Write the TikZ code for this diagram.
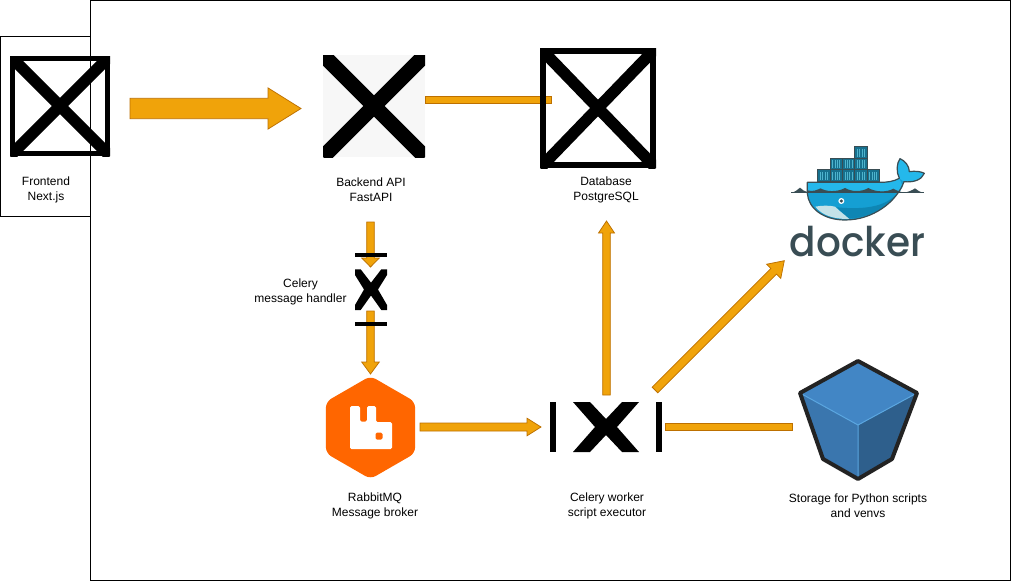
\documentclass[tikz,border=0pt]{standalone}
\usepackage{fontspec}
\setmainfont{Liberation Sans}
\newfontfamily\dockerfont{Poppins Medium}
\usetikzlibrary{calc,backgrounds,shapes.geometric}
\definecolor{amberfill}{HTML}{F0A30A}
\definecolor{amberline}{HTML}{BD7000}
\definecolor{rabbitorange}{HTML}{FF6600}
\definecolor{dockerdark}{HTML}{394D54}
\definecolor{dockerlight}{HTML}{24B8EB}
\definecolor{dockermid}{HTML}{159FD3}
\definecolor{dockerdeep}{HTML}{0E86B4}
\definecolor{cratefill}{HTML}{17708E}
\definecolor{cratelight}{HTML}{4FB4CE}
\definecolor{bellyfill}{HTML}{C4E2E8}
\definecolor{boxtop}{HTML}{4286C5}
\definecolor{boxleft}{HTML}{3A76AE}
\definecolor{boxright}{HTML}{2E5F8C}
\definecolor{boxedge}{HTML}{5AA6E0}
\definecolor{boxline}{HTML}{232323}
\tikzset{
  blockarrowstyle/.style={fill=amberfill,draw=amberline,line width=0.75pt,line join=miter},
  labeltext/.style={align=center,inner sep=0pt,font=\fontsize{12}{15}\selectfont},
  frame/.style={draw=black,line width=1pt,inner sep=0pt},
  crossimg/.style={inner sep=0pt,outer sep=0pt,minimum width=#1,
    path picture={
      \draw[line width=11.5pt] (path picture bounding box.north west) -- (path picture bounding box.south east);
      \draw[line width=11.5pt] (path picture bounding box.north east) -- (path picture bounding box.south west);
    }},
}
% a = tail, b = tip; half shaft width, half head width, head length
\newcommand{\blockarrow}[5]{%
  \coordinate (ba-h) at ($(#2)!#5!(#1)$);
  \draw[blockarrowstyle] ($(#1)!#3!90:(#2)$) -- ($(ba-h)!#3!90:(#2)$) -- ($(ba-h)!#4!90:(#2)$) -- (#2)
    -- ($(ba-h)!#4!-90:(#2)$) -- ($(ba-h)!#3!-90:(#2)$) -- ($(#1)!#3!-90:(#2)$) -- cycle;
}
\newcommand{\blockline}[3]{%
  \draw[blockarrowstyle] ($(#1)!#3!90:(#2)$) -- ($(#2)!#3!-90:(#1)$) -- ($(#2)!#3!90:(#1)$) -- ($(#1)!#3!-90:(#2)$) -- cycle;
}
\begin{document}
\begin{tikzpicture}[x=1pt,y=-1pt]
\useasboundingbox (0,0) rectangle (1011,581);
\fill[white] (0,0) rectangle (1011,581);

% frames
\node[frame,minimum width=90pt,minimum height=180pt] (frontbox) at (45.5,126.3) {};
\node[frame,minimum width=919.5pt,minimum height=579.5pt] (mainbox) at (550.25,290.5) {};

% free connector ends
\coordinate (c1s) at (130,108.5);   \coordinate (c1e) at (301,108.5);
\coordinate (c2s) at (425,100);     \coordinate (c2e) at (551,100);
\coordinate (c3s) at (370.5,222);   \coordinate (c3e) at (370.5,267);
\coordinate (c4s) at (370.5,311);   \coordinate (c4e) at (370.5,374);
\coordinate (c5s) at (420,427);     \coordinate (c5e) at (541,427);
\coordinate (c6s) at (606.5,395);   \coordinate (c6e) at (606.5,221);
\coordinate (c7s) at (655,390);     \coordinate (c7e) at (784.3,260.7);
\coordinate (c8s) at (665,426.8);   \coordinate (c8e) at (792,426.8);

% connectors (under the images)
\blockarrow{c1s}{c1e}{10.2pt}{20.6pt}{33pt}
\blockline{c2s}{c2e}{3.7pt}
\blockarrow{c3s}{c3e}{3.8pt}{8.8pt}{9pt}
\blockarrow{c4s}{c4e}{3.8pt}{8.8pt}{12pt}
\blockarrow{c5s}{c5e}{4pt}{8.8pt}{14pt}
\blockarrow{c6s}{c6e}{3.8pt}{8pt}{12pt}
\blockarrow{c7s}{c7e}{4pt}{10pt}{15pt}
\blockline{c8s}{c8e}{3.8pt}

% Frontend image
\node[crossimg=100pt,minimum height=100pt] (frontimg) at (60,106) {};
\draw[line width=5pt] (12.5,58.5) rectangle (107.5,153.5);
% Backend image
\node[crossimg=102pt,minimum height=102pt,fill=black!3,
  path picture={\draw[line width=15pt] (path picture bounding box.north west) -- (path picture bounding box.south east);
  \draw[line width=15pt] (path picture bounding box.north east) -- (path picture bounding box.south west);}] (apiimg) at (374,106) {};
% Database image
\node[crossimg=116pt,minimum height=120pt] (dbimg) at (598,108) {};
\draw[line width=6pt] (543,51) rectangle (653,165);

% Celery message handler image
\node[inner sep=0pt,minimum width=32pt,minimum height=41pt] (handlerimg) at (371,289.5) {};
\fill[black] (355,269.3) -- (360.7,269.3) -- (371,282.7) -- (381.3,269.3) -- (387,269.3) -- (387,275) -- (378,289.5) -- (387,305)
  -- (387,310) -- (381.3,310) -- (371,295.5) -- (360.7,310) -- (355,310) -- (355,305) -- (364,289.5) -- (355,275) -- cycle;
\fill[black] (355,253) rectangle (387,257);
\fill[black] (355,322) rectangle (387,326);

% Celery worker image
\node[inner sep=0pt,minimum width=112pt,minimum height=50pt] (workerimg) at (606,427) {};
\fill[black] (550,402) rectangle (556,452);
\fill[black] (656,402) rectangle (662,452);
\fill[black] (573,402) -- (590,402) -- (606,419) -- (622,402) -- (639,402) -- (617,427) -- (639,452)
  -- (622,452) -- (606,435) -- (590,452) -- (573,452) -- (595,427) -- cycle;

% RabbitMQ
\node[regular polygon,regular polygon sides=6,shape border rotate=30,minimum size=103pt,inner sep=0pt,
  fill=rabbitorange,rounded corners=6pt] (rabbitimg) at (370.5,427.5) {};
\fill[white,rounded corners=1.5pt] (350,406) -- (360,406) -- (360,421.5) -- (367,421.5) -- (367,406) -- (376,406)
  -- (376,422) -- (392,422) -- (392,449) -- (350,449) -- cycle;
\fill[rabbitorange,rounded corners=1.5pt] (375.5,432.5) rectangle (382.5,439.5);

% Storage
\begin{scope}[line join=round]
\fill[boxleft] (800,393) -- (858,425) -- (858,479) -- (823,459) -- cycle;
\fill[boxright] (917,393) -- (858,425) -- (858,479) -- (892,459) -- cycle;
\fill[boxtop] (800,393) -- (858,361) -- (917,393) -- (858,425) -- cycle;
\draw[boxedge,line width=1pt] (800,393) -- (858,425) -- (917,393) (858,425) -- (858,479);
\draw[boxline,line width=4pt] (800,393) -- (858,361) -- (917,393) -- (892,459) -- (858,479) -- (823,459) -- cycle;
\end{scope}

% Docker logo (drawn in the 3x zoom grid)
\begin{scope}[shift={(780,130)},x=0.3333pt,y=-0.3333pt]
  % crates
  \foreach \cx/\cy in {113/120,150/120,187/120,224/120,261/120,150/85,187/85,224/85,224/50}{
    \fill[cratefill,draw=dockerdark,line width=1pt] (\cx,\cy) rectangle ++(37,35);
    \foreach \sx in {8,15,22,29}{
      \draw[cratelight,line width=0.6pt] (\cx+\sx,\cy+6) -- (\cx+\sx,\cy+30);
    }
  }
  % water line with waves
  \fill[dockerdark] (33,188) .. controls (48,186) and (52,178) .. (60,173) .. controls (68,180) and (72,184) .. (82,186) -- (82,188) -- cycle;
  \fill[dockerdark] (372,188) .. controls (385,186) and (395,182) .. (405,175) .. controls (412,182) and (420,186) .. (432,188) -- cycle;
  % whale
  \path[fill=dockermid] (82,157) -- (300,157) .. controls (320,157) and (340,155) .. (358,145)
    .. controls (348,125) and (350,100) .. (360,86) .. controls (375,92) and (388,108) .. (388,125)
    .. controls (405,122) and (425,125) .. (433,130) .. controls (425,150) and (400,158) .. (372,155)
    .. controls (350,215) and (280,270) .. (195,270) .. controls (130,270) and (85,235) .. (82,190) -- cycle;
  \fill[dockerlight] (82,157) -- (300,157) .. controls (320,157) and (340,155) .. (358,145)
    -- (368,170) -- (360,184) -- (82,184) -- cycle;
  \fill[dockerlight] (358,145) .. controls (348,125) and (350,100) .. (360,86) .. controls (375,92) and (388,108) .. (388,125)
    .. controls (405,122) and (425,125) .. (433,130) .. controls (425,150) and (400,158) .. (372,155) -- cycle;
  \fill[dockerdeep] (205,266) .. controls (280,262) and (325,225) .. (345,198) .. controls (310,228) and (260,240) .. (170,232) -- cycle;
  \fill[bellyfill] (106,230) .. controls (125,226) and (150,226) .. (165,230) .. controls (180,245) and (195,255) .. (208,267)
    .. controls (160,268) and (125,255) .. (106,230) -- cycle;
  \fill[dockerdark] (82,181) .. controls (100,186) and (110,180) .. (122,175) .. controls (135,184) and (170,188) .. (195,174)
    .. controls (215,186) and (245,186) .. (265,174) .. controls (285,186) and (320,188) .. (340,176)
    .. controls (350,182) and (358,184) .. (364,186) -- (82,188) -- cycle;
  \draw[dockerdark,line width=1pt] (33,187.5) -- (432,187.5);
  \draw[dockerdark,line width=1.2pt,line join=round] (82,157) -- (300,157) .. controls (320,157) and (340,155) .. (358,145)
    .. controls (348,125) and (350,100) .. (360,86) .. controls (375,92) and (388,108) .. (388,125)
    .. controls (405,122) and (425,125) .. (433,130) .. controls (425,150) and (400,158) .. (372,155)
    .. controls (350,215) and (280,270) .. (195,270) .. controls (130,270) and (85,235) .. (82,190) -- cycle;
  \fill[white] (184,213) circle (9);
  \fill[dockerdark] (184,213) circle (5);
\end{scope}
\node[inner sep=0pt,anchor=base,text=dockerdark,font=\dockerfont\fontsize{39}{39}\selectfont,yscale=1.05] (dockerword) at (857.5,256) {docker};

% labels
\node[labeltext] (frontlabel) at (46,189.5) {Frontend\\Next.js};
\node[labeltext] (apilabel) at (371,189.5) {Backend API\\FastAPI};
\node[labeltext] (dblabel) at (606,189.5) {Database\\PostgreSQL};
\node[labeltext] (handlerlabel) at (300.5,291.5) {Celery\\message handler};
\node[labeltext] (rabbitlabel) at (375,505.5) {RabbitMQ\\Message broker};
\node[labeltext] (workerlabel) at (607,505.5) {Celery worker\\script executor};
\node[labeltext] (storagelabel) at (858,505.5) {Storage for Python scripts\\and venvs};
\end{tikzpicture}
\end{document}
